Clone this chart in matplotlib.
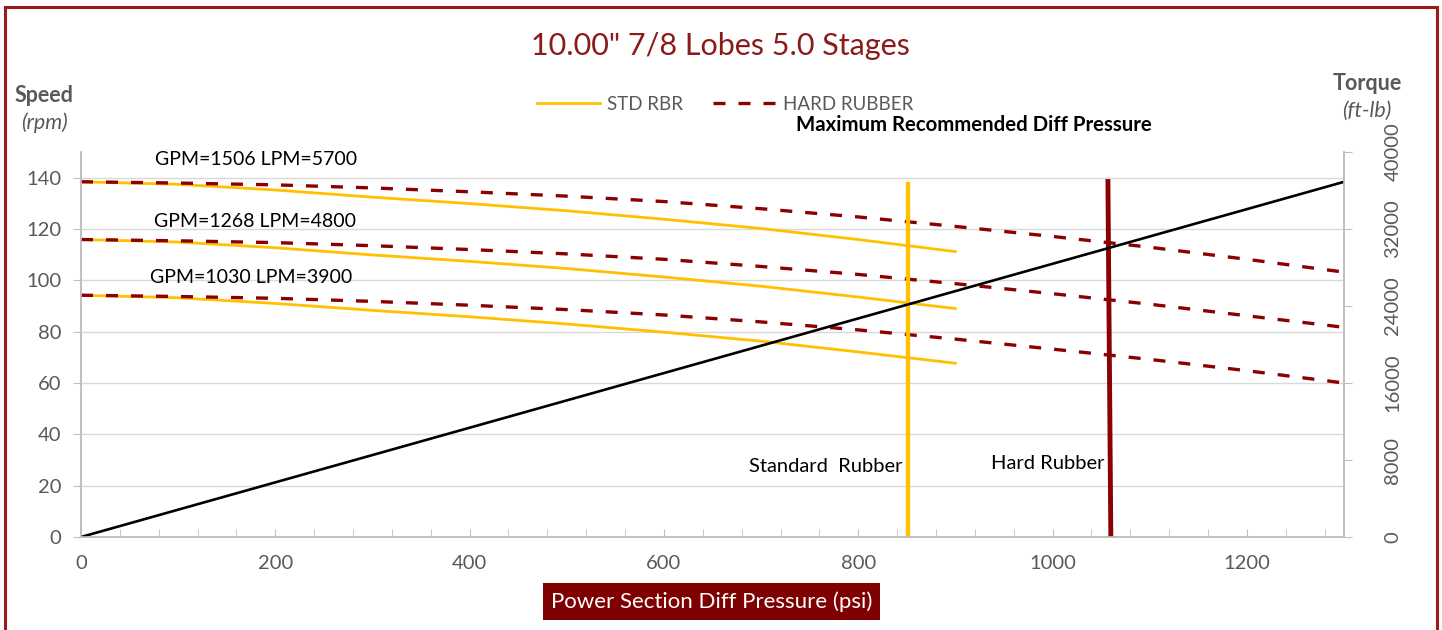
import matplotlib
matplotlib.use('Agg')
import matplotlib.pyplot as plt
from matplotlib.lines import Line2D
from matplotlib.patches import Rectangle
from matplotlib.ticker import MultipleLocator

plt.rcParams['font.family'] = ['Lato', 'DejaVu Sans']

# data
psi_std = [0, 100, 200, 300, 400, 500, 600, 700, 800, 900]
psi_hard = [0, 100, 200, 300, 400, 500, 600, 700, 800, 900, 1000, 1100, 1200, 1300]

std_1506 = [138.4, 137.4, 135.2, 132.4, 129.9, 127.1, 123.8, 120.2, 115.9, 111.2]
std_1268 = [115.9, 114.9, 112.7, 109.9, 107.4, 104.6, 101.3, 97.7, 93.5, 89.0]
std_1030 = [94.2, 93.2, 91.0, 88.3, 85.8, 83.0, 79.8, 76.3, 72.1, 67.7]

hard_1506 = [138.4, 137.9, 137.2, 136.0, 134.5, 132.8, 130.7, 127.9, 124.7, 121.0, 117.1, 112.9, 108.2, 103.2]
hard_1268 = [115.9, 115.4, 114.7, 113.5, 112.0, 110.3, 108.2, 105.4, 102.3, 98.7, 94.8, 90.7, 86.2, 81.7]
hard_1030 = [94.2, 93.7, 93.0, 91.8, 90.3, 88.6, 86.5, 83.8, 80.7, 77.1, 73.2, 69.2, 64.8, 60.0]

torque_psi = [0, 1300]
torque_ftlb = [0, 36900]

std_limit_psi = [851, 851]
std_limit_rpm = [0, 137.5]
hard_limit_psi = [1060, 1057]
hard_limit_rpm = [0, 138.5]

flow_labels = ['GPM=1506 LPM=5700', 'GPM=1268 LPM=4800', 'GPM=1030 LPM=3900']

W, H = 1442, 630
YELLOW = '#FFC000'
DARKRED = '#8B0000'
GRAY = '#595959'


def fx(x):
    return x / W


def fy(y):
    return 1 - y / H


fig = plt.figure(figsize=(W / 100, H / 100), dpi=100)
ax = fig.add_axes([fx(81), fy(537), fx(1344) - fx(81), fy(152) - fy(537)])
ax2 = ax.twinx()

dash = (3.6, 3.9)
for s in [std_1506, std_1268, std_1030]:
    ax.plot(psi_std, s, color=YELLOW, lw=2.0, zorder=3)
for h in [hard_1506, hard_1268, hard_1030]:
    ax.plot(psi_hard, h, color=DARKRED, lw=2.4, dashes=dash, zorder=3)

ax.plot(std_limit_psi, std_limit_rpm, color=YELLOW, lw=3.1, zorder=4)
ax.plot(hard_limit_psi, hard_limit_rpm, color=DARKRED, lw=3.5, zorder=4)

ax2.plot(torque_psi, torque_ftlb, color='black', lw=1.9)

ax.set_xlim(0, 1300)
ax.set_ylim(0, 150)
ax2.set_ylim(0, 40000)

ax.set_yticks(range(0, 141, 20))
ax.xaxis.set_major_locator(MultipleLocator(200))
ax.xaxis.set_minor_locator(MultipleLocator(40))
ax2.set_yticks(range(0, 40001, 8000))

ax.grid(axis='y', color='#D9D9D9', lw=1.0)
ax.set_axisbelow(True)

for a in (ax, ax2):
    a.spines['top'].set_visible(False)
    for side in ('left', 'right', 'bottom'):
        a.spines[side].set_color('#BFBFBF')
        a.spines[side].set_linewidth(1.2)

ax.tick_params(axis='x', which='both', direction='in', length=6, color='#BFBFBF',
               labelsize=14.5, labelcolor=GRAY, pad=13)
ax.tick_params(axis='y', direction='out', length=6, color='#BFBFBF',
               labelsize=14.5, labelcolor=GRAY, pad=8)
ax2.tick_params(axis='y', direction='out', length=6, color='#BFBFBF',
                labelsize=14.5, labelcolor=GRAY, pad=23)
for lbl in ax2.get_yticklabels():
    lbl.set_rotation(90)
    lbl.set_va('center')

# flow annotations
ax.text(180, 147, flow_labels[0], ha='center', va='center', fontsize=14, color='black')
ax.text(179, 123, flow_labels[1], ha='center', va='center', fontsize=14, color='black')
ax.text(175, 101, flow_labels[2], ha='center', va='center', fontsize=14, color='black')

ax.text(846, 27.6, 'Standard  Rubber', ha='right', va='center', fontsize=14.5, color='black')
ax.text(1053, 28.7, 'Hard Rubber', ha='right', va='center', fontsize=14.5, color='black')

# title and labels
fig.text(fx(720), fy(46), '10.00" 7/8 Lobes 5.0 Stages', ha='center', va='center',
         fontsize=22, color='#8B1A1A')
fig.text(fx(974), fy(125), 'Maximum Recommended Diff Pressure', ha='center', va='center',
         fontsize=14.7, fontweight='bold', color='black')

fig.text(fx(44), fy(95), 'Speed', ha='center', va='center', fontsize=15.5,
         fontweight='bold', color=GRAY)
fig.text(fx(44), fy(123), '(rpm)', ha='center', va='center', fontsize=15.5,
         fontstyle='italic', color=GRAY)
fig.text(fx(1367), fy(83), 'Torque', ha='center', va='center', fontsize=15.5,
         fontweight='bold', color=GRAY)
fig.text(fx(1367), fy(111), '(ft-lb)', ha='center', va='center', fontsize=15.5,
         fontstyle='italic', color=GRAY)

# x axis title in dark red box
fig.add_artist(Rectangle((fx(543), fy(620)), fx(880) - fx(543), fy(583) - fy(620),
                         transform=fig.transFigure, facecolor='#7F0000', edgecolor='none'))
fig.text(fx(711.5), fy(601.5), 'Power Section Diff Pressure (psi)', ha='center', va='center',
         fontsize=16, color='white')

# legend
handles = [Line2D([], [], color=YELLOW, lw=2.0),
           Line2D([], [], color=DARKRED, lw=2.4, dashes=dash)]
fig.legend(handles, ['STD RBR', 'HARD RUBBER'], loc='center', ncol=2, frameon=False,
           bbox_to_anchor=(fx(725), fy(104)), fontsize=13.5, labelcolor=GRAY,
           handlelength=3.4, handletextpad=0.35, columnspacing=1.6)

# chart border
fig.add_artist(Rectangle((fx(5), -0.1), fx(1437) - fx(5), fy(7) + 0.1,
                         transform=fig.transFigure, facecolor='none',
                         edgecolor='#9B1B1B', lw=2.2))

fig.savefig('out.png', dpi=100)
